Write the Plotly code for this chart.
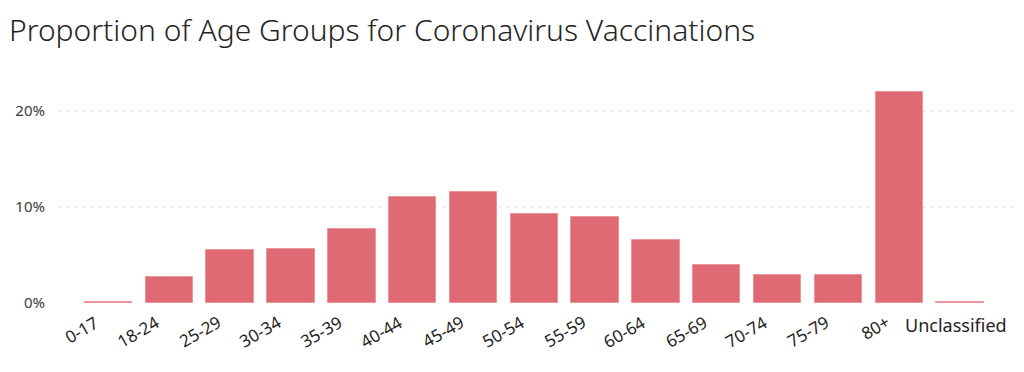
import plotly.graph_objects as go

categories = ["0-17", "18-24", "25-29", "30-34", "35-39", "40-44", "45-49",
              "50-54", "55-59", "60-64", "65-69", "70-74", "75-79", "80+", "Unclassified"]
values = [0.15, 2.7, 5.48, 5.58, 7.67, 11.04, 11.52, 9.3, 8.92, 6.52, 3.96, 2.88, 2.88, 21.94, 0.15]
y_ticks = [0, 10, 20]
y_tick_labels = ["0%", "10%", "20%"]

BAR = "#DF6A73"
TEXT = "#252423"
GRID = "#C8C6C4"

fig = go.Figure(go.Bar(
    x=list(range(len(categories))), y=values,
    width=0.78,
    marker=dict(color=BAR, line=dict(color="#EA959B", width=1)),
    hoverinfo="skip",
))

annotations = []
for i, c in enumerate(categories):
    if c == "Unclassified":
        annotations.append(dict(x=i, y=0, xref="x", yref="y", text=c, showarrow=False,
                                xanchor="center", yanchor="top", xshift=-4, yshift=-8,
                                font=dict(family="Noto Sans", size=18, color=TEXT)))
    else:
        annotations.append(dict(x=i, y=0, xref="x", yref="y", text=c, showarrow=False,
                                textangle=-30, xanchor="right", yanchor="top",
                                xshift=-3, yshift=-5,
                                font=dict(family="Noto Sans", size=17, color=TEXT)))

fig.update_layout(
    width=1024, height=372,
    margin=dict(l=52, r=19, t=62, b=77, autoexpand=False),
    paper_bgcolor="white", plot_bgcolor="white",
    title=dict(text="Proportion of Age Groups for Coronavirus Vaccinations",
               x=1/1024, xanchor="left", xref="container",
               y=1 - 12/372, yanchor="top", yref="container",
               font=dict(family="Noto Sans", size=30, color=TEXT, weight=300)),
    xaxis=dict(range=[-0.797, 14.87], showticklabels=False, showgrid=False,
               zeroline=False, showline=False, ticks="", automargin=False),
    yaxis=dict(range=[0, 233/9.6], tickvals=y_ticks, ticktext=y_tick_labels,
               showgrid=True, gridcolor=GRID, griddash="1px,7px", gridwidth=1,
               zeroline=False, showline=False, ticks="", ticklabelstandoff=14,
               automargin=False,
               tickfont=dict(family="Noto Sans", size=15, color="#3B3A39")),
    annotations=annotations,
    showlegend=False,
    bargap=0,
)

fig.write_html("out.html")
